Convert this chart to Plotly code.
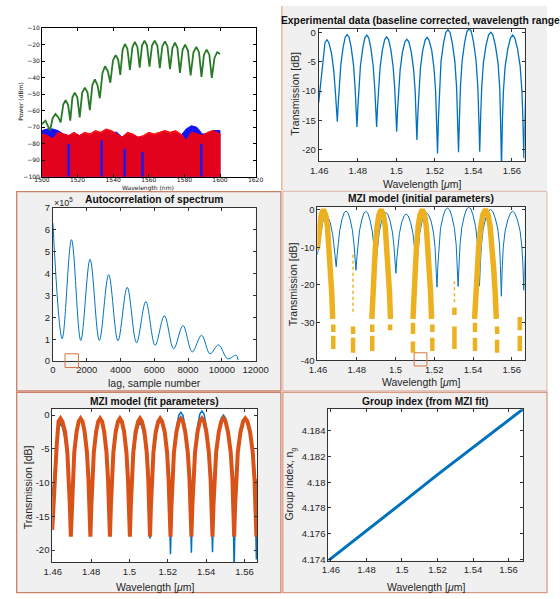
import plotly.graph_objects as go

W, H = 560, 599

# ======================= DATA =======================
# (a) raw power spectra, wavelength [nm], power [dBm]
green_nm = [1500.0, 1502.0, 1504.5, 1506.0, 1507.6, 1509.2, 1510.5,
            1512.0, 1513.3, 1514.7, 1515.9, 1517.1, 1518.4, 1519.9, 1521.2,
            1522.6, 1524.1, 1525.6, 1526.9, 1528.3, 1529.7, 1531.2, 1532.5,
            1534.0, 1535.4, 1537.0, 1538.4, 1539.9, 1541.4, 1542.8, 1544.0,
            1545.3, 1546.6, 1548.0, 1549.4, 1550.8, 1552.2, 1553.6, 1554.9,
            1556.2, 1557.6, 1559.0, 1560.4, 1561.8, 1563.3, 1564.8, 1566.2,
            1567.6, 1569.1, 1570.5, 1571.9, 1573.3, 1574.7, 1576.1, 1577.5,
            1579.0, 1580.4, 1582.0, 1583.5, 1585.1, 1586.7, 1588.2, 1589.6,
            1591.0, 1592.5, 1594.0, 1595.4, 1596.9, 1598.4, 1600.0]
green_dbm = [-68.0, -66.0, -72.0, -64.5, -62.0, -64.0, -67.0,
             -56.0, -53.6, -56.5, -66.0, -52.0, -49.0, -52.0, -64.0,
             -49.0, -46.0, -49.0, -59.6, -44.5, -41.0, -44.5, -52.4,
             -37.0, -33.0, -36.0, -43.0, -29.5, -26.3, -29.0, -38.2,
             -23.0, -19.5, -22.5, -35.2, -21.5, -18.3, -21.3, -33.8,
             -20.5, -17.5, -20.5, -33.2, -20.5, -17.5, -20.5, -34.2,
             -21.0, -17.9, -21.0, -34.8, -22.0, -18.7, -22.0, -37.0,
             -23.0, -19.9, -23.5, -38.5, -24.5, -21.3, -24.5, -39.5,
             -26.0, -22.9, -26.0, -40.0, -28.0, -24.5, -25.5]
noise_nm = [1500, 1503, 1506, 1509, 1512, 1515, 1518, 1521, 1524, 1527,
            1530, 1533, 1536, 1539, 1542, 1545, 1548, 1551, 1554, 1557,
            1560, 1563, 1566, 1569, 1572, 1575, 1578, 1581, 1584, 1587,
            1590, 1593, 1596, 1600]
red_top_dbm = [-74, -75, -77, -73, -74, -75, -73, -75, -73, -74,
               -72, -73, -71, -72, -74, -76, -73, -74, -76, -75,
               -73, -74, -73, -72, -73, -72, -74, -78, -73, -74,
               -75, -73, -72, -74]
blue_top_dbm = [-72, -71, -71, -72, -74, -75, -74, -75, -74, -75,
                -73, -74, -72, -73, -73, -76, -74, -75, -76, -76,
                -74, -75, -74, -73, -74, -73, -75, -71, -69, -70,
                -74, -74, -72, -72]
blue_dip_nm = [1515.0, 1533.5, 1546.5, 1556.5, 1589.5]
blue_dip_top_dbm = [-80, -78, -83, -85, -80]
noise_floor_dbm = -100

# measured MZI transmission (baseline corrected), wavelength [um], [dB]
exp_um = [
    1.4597, 1.4605, 1.4611, 1.4620, 1.4630, 1.4640, 1.4650, 1.4664, 1.4676, 1.4684, 1.4689, 1.4694,
    1.4699, 1.4704, 1.4712, 1.4724, 1.4735, 1.4745, 1.4755, 1.4766, 1.4778, 1.4786, 1.4791, 1.4796,
    1.4801, 1.4806, 1.4814, 1.4826, 1.4837, 1.4847, 1.4857, 1.4868, 1.4880, 1.4888, 1.4893, 1.4898,
    1.4903, 1.4908, 1.4916, 1.4928, 1.4940, 1.4950, 1.4960, 1.4972, 1.4984, 1.4992, 1.4997, 1.5002,
    1.5007, 1.5012, 1.5020, 1.5032, 1.5045, 1.5055, 1.5065, 1.5078, 1.5090, 1.5098, 1.5103, 1.5107,
    1.5112, 1.5117, 1.5125, 1.5137, 1.5150, 1.5160, 1.5170, 1.5184, 1.5196, 1.5204, 1.5209, 1.5214,
    1.5219, 1.5224, 1.5232, 1.5245, 1.5257, 1.5268, 1.5279, 1.5291, 1.5304, 1.5313, 1.5318, 1.5323,
    1.5328, 1.5333, 1.5342, 1.5355, 1.5367, 1.5378, 1.5389, 1.5401, 1.5414, 1.5423, 1.5428, 1.5433,
    1.5438, 1.5443, 1.5452, 1.5466, 1.5479, 1.5490, 1.5501, 1.5514, 1.5528, 1.5537, 1.5541, 1.5546,
    1.5551, 1.5556, 1.5565, 1.5579, 1.5593, 1.5604, 1.5615, 1.5629, 1.5643, 1.5652, 1.5657, 1.5662,
    1.5667, 1.5672]
exp_db = [
    -12.0, -9.5, -7.0, -4.2, -1.75, -1.3, -1.75, -3.6, -6.7, -10.2, -12.5, -15.2,
    -12.0, -9.3, -5.6, -2.6, -0.85, -0.4, -0.85, -2.6, -5.6, -9.3, -12.5, -16.1,
    -12.5, -9.4, -5.7, -2.7, -0.95, -0.5, -0.95, -2.7, -5.7, -9.4, -12.5, -16.1,
    -12.5, -9.6, -6.0, -3.0, -1.25, -0.8, -1.25, -3.0, -6.0, -9.6, -13.0, -16.9,
    -13.0, -10.0, -6.4, -3.4, -1.65, -1.2, -1.65, -3.4, -6.4, -10.0, -13.8, -18.3,
    -13.8, -10.0, -6.2, -3.1, -1.35, -0.9, -1.35, -3.1, -6.2, -10.0, -14.5, -20.6,
    -14.5, -9.4, -5.0, -1.9, -0.05, 0.4, -0.05, -1.9, -5.0, -9.4, -14.4, -20.4,
    -14.4, -9.2, -4.8, -1.7, 0.15, 0.6, 0.15, -1.7, -4.8, -9.2, -14.3, -20.3,
    -14.3, -9.6, -5.2, -2.2, -0.45, 0.0, -0.45, -2.2, -5.2, -9.6, -14.8, -23.0,
    -14.8, -10.0, -5.8, -2.8, -0.95, -0.5, -0.95, -2.8, -5.8, -10.0, -14.5, -21.4,
    -14.5, -10.0]
# fitted MZI model evaluated on exp_um
fit_db = [
    -17.0, -12.0, -8.0, -4.6, -0.95, -0.5, -0.95, -2.5, -5.5, -9.5, -13.5, -18.0,
    -13.5, -9.5, -5.5, -2.5, -0.95, -0.5, -0.95, -2.5, -5.5, -9.5, -13.5, -18.0,
    -13.5, -9.5, -5.5, -2.5, -0.95, -0.5, -0.95, -2.5, -5.5, -9.5, -13.5, -18.0,
    -13.5, -9.5, -5.5, -2.5, -0.95, -0.5, -0.95, -2.5, -5.5, -9.5, -13.5, -18.0,
    -13.5, -9.5, -5.5, -2.5, -0.95, -0.5, -0.95, -2.5, -5.5, -9.5, -13.5, -18.0,
    -13.5, -9.5, -5.5, -2.5, -0.95, -0.5, -0.95, -2.5, -5.5, -9.5, -13.5, -18.0,
    -13.5, -9.5, -5.5, -2.5, -0.95, -0.5, -0.95, -2.5, -5.5, -9.5, -13.5, -18.0,
    -13.5, -9.5, -5.5, -2.5, -0.95, -0.5, -0.95, -2.5, -5.5, -9.5, -13.5, -18.0,
    -13.5, -9.5, -5.5, -2.5, -0.95, -0.5, -0.95, -2.5, -5.5, -9.5, -13.5, -18.0,
    -13.5, -9.5, -5.5, -2.5, -0.95, -0.5, -0.95, -2.5, -5.5, -9.5, -13.5, -18.0,
    -13.5, -9.5]

# MZI model with initial parameters (sampled arcs + sparse samples near dips)
init_um = [1.4597, 1.4607, 1.4616, 1.4628, 1.4640, 1.4649, 1.4658, 1.4665, 1.4671, 1.4676, None,
           1.4878, 1.4883, 1.4889, 1.4896, 1.4905, 1.4914, 1.4926, 1.4938, 1.4947, 1.4956, 1.4963, 1.4969, 1.4974, None,
           1.5090, 1.5095, 1.5101, 1.5108, 1.5117, 1.5126, 1.5138, 1.5150, 1.5159, 1.5168, 1.5175, 1.5181, 1.5186, None,
           1.5408, 1.5414, 1.5421, 1.5429, 1.5440, 1.5450, 1.5464, 1.5478, 1.5488, 1.5499, 1.5507, 1.5514, 1.5520]
init_db = [-10.5, -4.5, -1.5, 0.0, -1.5, -4.5, -10.0, -16.0, -22.0, -29.0, None,
           -29.0, -22.0, -16.0, -10.0, -4.5, -1.5, 0.0, -1.5, -4.5, -10.0, -16.0, -22.0, -29.0, None,
           -29.0, -22.0, -16.0, -10.0, -4.5, -1.5, 0.0, -1.5, -4.5, -10.0, -16.0, -22.0, -29.0, None,
           -29.0, -22.0, -16.0, -10.0, -4.5, -1.5, 0.0, -1.5, -4.5, -10.0, -16.0, -22.0, -29.0]
init_dash_um = [1.4679, 1.4679, 1.4781, 1.4781, 1.4880, 1.4880, 1.4972, 1.5090, 1.5090,
                1.5190, 1.5190, 1.5304, 1.5304, 1.5410, 1.5410, 1.5524, 1.5524, 1.5641, 1.5641]
init_dash_top = [-30.5, -33.5, -31.0, -34.0, -30.5, -33.5, -30.5, -30.0, -35.0,
                 -30.5, -34.0, -26.0, -31.0, -30.0, -34.0, -31.0, -34.5, -28.5, -33.5]
init_dash_bot = [-32.5, -37.0, -33.0, -38.0, -32.5, -37.5, -32.0, -33.0, -38.0,
                 -32.5, -37.5, -28.0, -37.0, -32.5, -37.5, -33.0, -38.0, -32.0, -37.5]
init_dot_um = [1.4781, 1.5304]
init_dot_top = [-12.0, -19.0]
init_dot_bot = [-28.0, -25.0]

# autocorrelation of spectrum (values in units of 1e5)
lag = [0, 550, 1100, 1650, 2200, 2750, 3300, 3850, 4400, 4950, 5500,
       6050, 6600, 7150, 7700, 8250, 8800, 9300, 9800, 10350, 10850, 10960]
acorr_e5 = [6.3, 1.02, 5.55, 0.94, 4.65, 0.94, 3.95, 0.93, 3.37, 0.84, 2.72,
            0.72, 2.07, 0.56, 1.62, 0.42, 1.18, 0.33, 0.74, 0.10, 0.27, 0.05]

# group index from fit
ng_um = [1.4585, 1.4800, 1.5000, 1.5200, 1.5400, 1.5681]
ng = [4.1739, 4.1762, 4.1784, 4.1806, 4.1827, 4.1857]

# tick labels
wl_ticks = [1.46, 1.48, 1.50, 1.52, 1.54, 1.56]
wl_ticktext = ['1.46', '1.48', '1.5', '1.52', '1.54', '1.56']

# ======================= FIGURE =======================
BLUE = '#0072BD'
ORANGE = '#D95319'
YELLOW = '#EDB120'
MFONT = 'Liberation Sans, Arial, sans-serif'

def segs(xs, tops, bots):
    X, Y = [], []
    for x, t, b in zip(xs, tops, bots):
        X += [x, x, None]
        Y += [t, b, None]
    return X, Y

fig = go.Figure()

def add(tr, n):
    tr.update(xaxis='x' if n == 1 else f'x{n}', yaxis='y' if n == 1 else f'y{n}',
              hoverinfo='skip', showlegend=False)
    fig.add_trace(tr)

# --- panel 1 (raw spectra)
add(go.Scatter(x=noise_nm + [noise_nm[-1], noise_nm[0]],
               y=blue_top_dbm + [noise_floor_dbm, noise_floor_dbm],
               fill='toself', fillcolor='#1414f0', mode='lines',
               line=dict(color='#1414f0', width=1)), 1)
add(go.Scatter(x=noise_nm + [noise_nm[-1], noise_nm[0]],
               y=red_top_dbm + [noise_floor_dbm, noise_floor_dbm],
               fill='toself', fillcolor='rgba(255,0,0,0.88)', mode='lines',
               line=dict(color='#ff0000', width=1)), 1)
bx, by = segs(blue_dip_nm, blue_dip_top_dbm, [noise_floor_dbm] * len(blue_dip_nm))
add(go.Scatter(x=bx, y=by, mode='lines', line=dict(color='#1a1aee', width=2.5)), 1)
add(go.Scatter(x=green_nm, y=green_dbm, mode='lines',
               line=dict(color='#277a27', width=1.8)), 1)

# --- panel 2 (experimental data)
add(go.Scatter(x=exp_um, y=exp_db, mode='lines', line=dict(color=BLUE, width=1.3)), 2)

# --- panel 3 (autocorrelation)
add(go.Scatter(x=lag, y=acorr_e5, mode='lines',
               line=dict(color=BLUE, width=1, shape='spline', smoothing=1.0)), 3)

# --- panel 4 (initial model)
add(go.Scatter(x=exp_um, y=exp_db, mode='lines', line=dict(color=BLUE, width=1)), 4)
add(go.Scatter(x=init_um, y=init_db, mode='lines', line=dict(color=YELLOW, width=5.5)), 4)
dx, dy = segs(init_dash_um, init_dash_top, init_dash_bot)
add(go.Scatter(x=dx, y=dy, mode='lines', line=dict(color=YELLOW, width=4.5)), 4)
ox, oy = segs(init_dot_um, init_dot_top, init_dot_bot)
add(go.Scatter(x=ox, y=oy, mode='lines', line=dict(color=YELLOW, width=1.5, dash='dot')), 4)

# --- panel 5 (fit)
add(go.Scatter(x=exp_um, y=exp_db, mode='lines', line=dict(color=BLUE, width=1.5)), 5)
add(go.Scatter(x=exp_um, y=fit_db, mode='lines', line=dict(color=ORANGE, width=4)), 5)

# --- panel 6 (group index)
add(go.Scatter(x=ng_um, y=ng, mode='lines', line=dict(color=BLUE, width=3)), 6)

# axis boxes in pixels (left, right, top, bottom)
boxes = {
    1: (34.3, 256.7, 22.7, 174.0),
    2: (322.3, 536.7, 23.3, 158.3),
    3: (45.7, 256.7, 205.7, 361.7),
    4: (321.0, 536.7, 205.0, 361.0),
    5: (45.0, 258.3, 410.7, 566.7),
    6: (332.3, 535.0, 410.7, 565.0),
}

def dom(n):
    l, r, t, b = boxes[n]
    return [l / W, r / W], [1 - b / H, 1 - t / H]

mat = dict(showline=True, linecolor='#333333', linewidth=0.8, mirror='ticks',
           ticks='inside', ticklen=3, tickwidth=0.8, tickcolor='#333333',
           showgrid=False, zeroline=False,
           tickfont=dict(family=MFONT, size=9.5, color='#262626'))
mpl = dict(showline=True, linecolor='#000000', linewidth=0.8, mirror='ticks',
           ticks='inside', ticklen=3, tickwidth=0.6, tickcolor='#000000',
           showgrid=False, zeroline=False,
           tickfont=dict(family='DejaVu Sans, sans-serif', size=6, color='#111111'))

layout = dict(width=W, height=H, autosize=False,
              margin=dict(l=0, r=0, t=0, b=0),
              paper_bgcolor='white', plot_bgcolor='white')

def axes(n, style, xr, yr, xt, xtt, yt, ytt, xstand=None):
    xd, yd = dom(n)
    xk = 'xaxis' if n == 1 else f'xaxis{n}'
    yk = 'yaxis' if n == 1 else f'yaxis{n}'
    layout[xk] = dict(style, domain=xd, range=xr, anchor='y' if n == 1 else f'y{n}',
                      tickvals=xt, ticktext=xtt)
    if xstand is not None:
        layout[xk]['ticklabelstandoff'] = xstand
    layout[yk] = dict(style, domain=yd, range=yr, anchor='x' if n == 1 else f'x{n}',
                      tickvals=yt, ticktext=ytt)

p1x = [1500, 1520, 1540, 1560, 1580, 1600, 1620]
p1y = [-100, -90, -80, -70, -60, -50, -40, -30, -20, -10]
axes(1, mpl, [1500, 1620], [-100, -10], p1x, [str(v) for v in p1x],
     p1y, ['\u2212' + str(-v) for v in p1y], xstand=-3)
db20 = [-20, -15, -10, -5, 0]
axes(2, mat, [1.4597, 1.5666], [-21.94, 0.56], wl_ticks, wl_ticktext,
     db20, ['-20', '-15', '-10', '-5', '0'])
lx = [0, 2000, 4000, 6000, 8000, 10000, 12000]
ly = [0, 1, 2, 3, 4, 5, 6, 7]
axes(3, mat, [0, 12000], [0, 7], lx, [str(v) for v in lx], ly, [str(v) for v in ly])
db40 = [-40, -30, -20, -10, 0]
axes(4, mat, [1.4597, 1.5666], [-40, 0.6], wl_ticks, wl_ticktext,
     db40, ['-40', '-30', '-20', '-10', '0'])
axes(5, mat, [1.4597, 1.5666], [-21.8, 0.87], wl_ticks, wl_ticktext,
     db20, ['-20', '-15', '-10', '-5', '0'])
ngt = [4.174, 4.176, 4.178, 4.180, 4.182, 4.184]
axes(6, mat, [1.4585, 1.5681], [4.1739, 4.1857], wl_ticks, wl_ticktext,
     ngt, ['4.174', '4.176', '4.178', '4.18', '4.182', '4.184'])

# panel backgrounds / borders
shapes = []
def rect(x0, y0, x1, y1, fill, line=None, lw=0, layer='below'):
    shapes.append(dict(type='rect', xref='paper', yref='paper',
                       x0=x0 / W, x1=x1 / W, y0=1 - y1 / H, y1=1 - y0 / H,
                       fillcolor=fill, line=dict(color=line or fill, width=lw),
                       layer=layer))
def hline(x0, x1, y, color, lw):
    shapes.append(dict(type='line', xref='paper', yref='paper', x0=x0 / W, x1=x1 / W,
                       y0=1 - y / H, y1=1 - y / H, line=dict(color=color, width=lw),
                       layer='below'))
def vline(x, y0, y1, color, lw):
    shapes.append(dict(type='line', xref='paper', yref='paper', x0=x / W, x1=x / W,
                       y0=1 - y0 / H, y1=1 - y1 / H, line=dict(color=color, width=lw),
                       layer='below'))

GRAY = '#F0F0F0'
rect(284, 0, 560, 188, GRAY)
rect(8, 189, 283, 392, GRAY, '#CC8068', 1.3)
rect(285, 189, 560, 392, GRAY, '#DDB3A3', 1)
rect(8, 393.5, 283, 597.5, GRAY, '#CC8068', 1.3)
rect(285, 393.5, 560, 597.5, GRAY, '#D89C86', 1.3)
vline(284, 0, 188, '#F2B58E', 1.5)
hline(284, 560, 188.5, '#E3CFC6', 1)
for n in range(2, 7):
    l, r, t, b = boxes[n]
    rect(l, t, r, b, 'white')
# small orange boxes
rect(58.3, 354.3, 72.3, 368.3, 'rgba(0,0,0,0)', '#D8743F', 1, 'above')
rect(421.7, 353.3, 435.0, 366.7, 'rgba(0,0,0,0)', '#D8743F', 1, 'above')
layout['shapes'] = shapes

ann = []
def text(t, x, y, size, family=MFONT, angle=0, color='#262626', xanchor='center'):
    ann.append(dict(text=t, x=x / W, y=1 - y / H, xref='paper', yref='paper',
                    showarrow=False, xanchor=xanchor, yanchor='middle', textangle=angle,
                    font=dict(family=family, size=size, color=color)))

DV = 'DejaVu Sans, sans-serif'
text('Power (dBm)', 12, 97, 6, DV, -90, '#111111')
text('Wavelength (nm)', 145, 185.5, 6, DV, 0, '#111111')

text('<b>Experimental data (baseline corrected, wavelength range)</b>', 429.5, 15, 10.3, color='#111111')
text('Transmission [dB]', 298, 89, 10.5, angle=-90)
text('Wavelength [<i>\u03bc</i>m]', 429.5, 181.5, 10.5)

text('<b>Autocorrelation of spectrum</b>', 151, 197.5, 10.3, color='#111111')
text('\u00d710<sup>5</sup>', 57, 200, 9)
text('lag, sample number', 151, 384.5, 10.5)

text('<b>MZI model (initial parameters)</b>', 429, 196, 10.3, color='#111111')
text('Transmission [dB]', 295, 283, 10.5, angle=-90)
text('Wavelength [<i>\u03bc</i>m]', 429, 383.5, 10.5)

text('<b>MZI model (fit parameters)</b>', 151.7, 403.3, 10.3, color='#111111')
text('Transmission [dB]', 20, 490, 10.5, angle=-90)
text('Wavelength [<i>\u03bc</i>m]', 151.7, 591.5, 10.5)

text('<b>Group index (from MZI fit)</b>', 433, 402.7, 10.3, color='#111111')
text('Group index, n<sub>g</sub>', 293, 487, 10.5, angle=-90)
text('Wavelength [<i>\u03bc</i>m]', 433.7, 591.5, 10.5)
layout['annotations'] = ann

fig.update_layout(**layout)
fig.write_html('out.html')
